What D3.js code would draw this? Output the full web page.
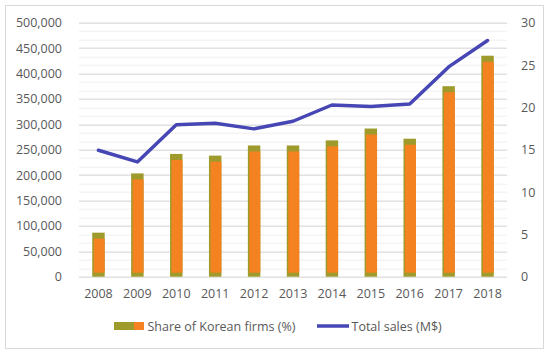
<!DOCTYPE html>
<html>
<head>
<meta charset="utf-8">
<script src="https://cdn.jsdelivr.net/npm/d3@7"></script>
<style>
  body { margin: 0; background: #fff; }
  text { font-family: "Open Sans", sans-serif; fill: #595959; }
</style>
</head>
<body>
<div id="chart"></div>
<script>
// data
const years = ["2008", "2009", "2010", "2011", "2012", "2013", "2014", "2015", "2016", "2017", "2018"];
const shareKorean = [5.2, 12.2, 14.5, 14.3, 15.5, 15.5, 16.1, 17.5, 16.3, 22.5, 26.1];
const totalSales = [249000, 226000, 299000, 302000, 291000, 306000, 338000, 335000, 340000, 413000, 465000];
const leftTicks = [0, 50000, 100000, 150000, 200000, 250000, 300000, 350000, 400000, 450000, 500000];
const rightTicks = [0, 5, 10, 15, 20, 25, 30];
const legendLabels = ["Share of Korean firms (%)", "Total sales (M$)"];

const W = 550, H = 354;
const margin = {top: 22.7, right: 43, bottom: 77.3, left: 79};
const width = W - margin.left - margin.right,
      height = H - margin.top - margin.bottom;

const svg = d3.select("#chart")
  .append("svg")
  .attr("width", W)
  .attr("height", H);

// outer frame
svg.append("rect")
  .attr("x", 5.5).attr("y", 5.5)
  .attr("width", 538).attr("height", 343)
  .attr("fill", "#fff")
  .attr("stroke", "#d9d9d9");

const g = svg.append("g")
  .attr("transform", `translate(${margin.left},${margin.top})`);

const x = d3.scaleBand()
  .domain(years)
  .range([0, width])
  .paddingInner(0.68)
  .paddingOuter(0.34);

const yL = d3.scaleLinear().domain([0, 500000]).range([height, 0]);
const yR = d3.scaleLinear().domain([0, 30]).range([height, 0]);

// minor grid (thirds of each major step)
const minor = d3.range(0, 500001, 50000 / 3);
g.append("g")
  .selectAll("line")
  .data(minor)
  .join("line")
  .attr("x1", 0).attr("x2", width)
  .attr("y1", d => Math.round(yL(d)) + 0.5)
  .attr("y2", d => Math.round(yL(d)) + 0.5)
  .attr("stroke", "#efefef");

// major grid
g.append("g")
  .selectAll("line")
  .data(leftTicks)
  .join("line")
  .attr("x1", 0).attr("x2", width)
  .attr("y1", d => Math.round(yL(d)) + 0.5)
  .attr("y2", d => Math.round(yL(d)) + 0.5)
  .attr("stroke", "#d9d9d9");

// left axis
const axL = g.append("g")
  .call(d3.axisLeft(yL).tickValues(leftTicks).tickFormat(d3.format(",")).tickSize(0).tickPadding(17));
axL.select(".domain").remove();
axL.selectAll("text").style("font-size", "12.5px").style("fill", "#595959").style("font-family", "Open Sans");

// right axis
const axR = g.append("g")
  .attr("transform", `translate(${width},0)`)
  .call(d3.axisRight(yR).tickValues(rightTicks).tickSize(0).tickPadding(14));
axR.select(".domain").remove();
axR.selectAll("text").style("font-size", "12.5px").style("fill", "#595959").style("font-family", "Open Sans");

// bottom axis
const axB = g.append("g")
  .attr("transform", `translate(0,${height})`)
  .call(d3.axisBottom(x).tickSize(0).tickPadding(12));
axB.select(".domain").remove();
axB.selectAll("text").style("font-size", "12.5px").style("fill", "#595959").style("font-family", "Open Sans");

// bars: olive body with orange core
const bars = g.append("g");
bars.selectAll("rect.outer")
  .data(shareKorean)
  .join("rect")
  .attr("class", "outer")
  .attr("x", (d, i) => x(years[i]))
  .attr("y", d => yR(d))
  .attr("width", x.bandwidth())
  .attr("height", d => height - yR(d))
  .attr("fill", "#9f9a2c");
bars.selectAll("rect.inner")
  .data(shareKorean)
  .join("rect")
  .attr("class", "inner")
  .attr("x", (d, i) => x(years[i]) + 1.5)
  .attr("y", d => yR(d) + 6)
  .attr("width", x.bandwidth() - 1.5)
  .attr("height", d => Math.max(0, height - yR(d) - 10))
  .attr("fill", "#f58220");

// line
const line = d3.line()
  .x((d, i) => x(years[i]) + x.bandwidth() / 2)
  .y(d => yL(d));
g.append("path")
  .datum(totalSales)
  .attr("d", line)
  .attr("fill", "none")
  .attr("stroke", "#4646b4")
  .attr("stroke-width", 3.5)
  .attr("stroke-linejoin", "round")
  .attr("stroke-linecap", "round");

// legend
const leg = svg.append("g").attr("transform", "translate(0,326)");
leg.append("rect").attr("x", 114).attr("y", -4).attr("width", 20).attr("height", 8).attr("fill", "#9f9a2c");
leg.append("rect").attr("x", 134).attr("y", -4).attr("width", 10).attr("height", 8).attr("fill", "#f58220");
leg.append("text").attr("x", 147.5).attr("y", 4.5)
  .style("font-size", "12.5px")
  .text(legendLabels[0]);
leg.append("line").attr("x1", 317).attr("x2", 349).attr("y1", 0).attr("y2", 0)
  .attr("stroke", "#4646b4").attr("stroke-width", 3.5);
leg.append("text").attr("x", 351.5).attr("y", 4.5)
  .style("font-size", "12.5px")
  .text(legendLabels[1]);
</script>
</body>
</html>
